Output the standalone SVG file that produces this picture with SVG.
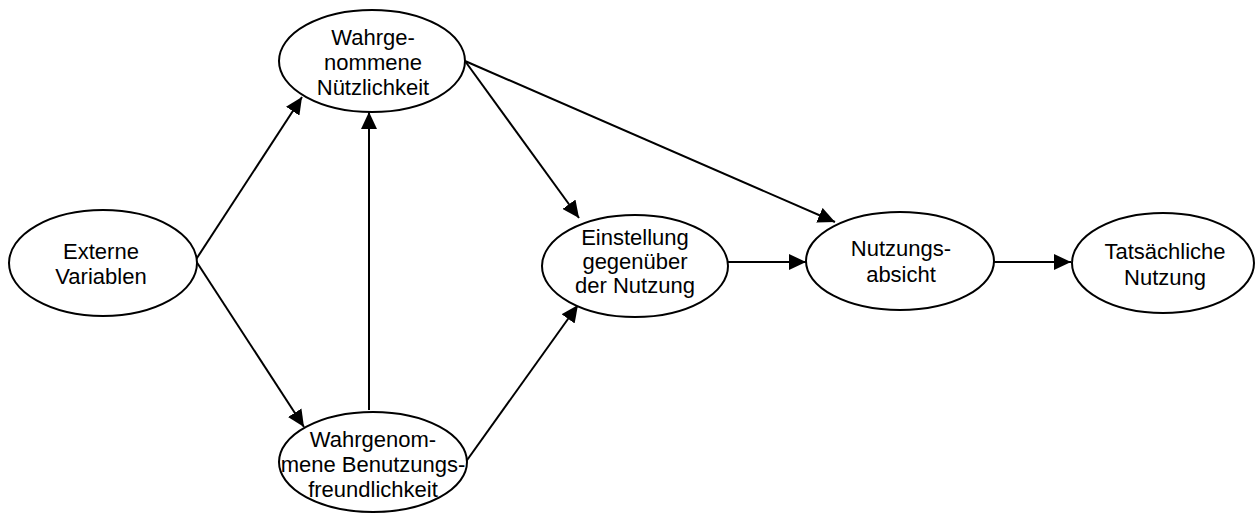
<svg xmlns="http://www.w3.org/2000/svg" width="1258" height="515" viewBox="0 0 1258 515">
<style>
.n ellipse{fill:#fff;stroke:#000;stroke-width:2}
.n text{font-family:"Liberation Sans",Arial,sans-serif;font-size:22px;text-anchor:middle;fill:#000}
.e line{stroke:#000;stroke-width:2;marker-end:url(#ah)}
</style>
<defs>
<marker id="ah" markerUnits="userSpaceOnUse" markerWidth="18" markerHeight="16" refX="17" refY="8" orient="auto">
<path d="M0,0 L17,8 L0,16 Z" fill="#000"/>
</marker>
</defs>
<rect width="1258" height="515" fill="#fff"/>
<g class="e" id="connectors">
<line x1="195" y1="261" x2="302" y2="97"/>
<line x1="196" y1="261" x2="304" y2="427"/>
<line x1="369" y1="410" x2="369" y2="112"/>
<line x1="465" y1="61" x2="579" y2="218"/>
<line x1="465" y1="61" x2="835" y2="222"/>
<line x1="465" y1="463" x2="578" y2="305"/>
<line x1="728" y1="262" x2="806" y2="262"/>
<line x1="994" y1="262" x2="1071" y2="262"/>
</g>
<g class="n" id="externe">
<ellipse cx="103" cy="263" rx="94" ry="53"/>
<text x="101" y="259">Externe</text>
<text x="101" y="284">Variablen</text>
</g>
<g class="n" id="nuetzlichkeit">
<ellipse cx="372" cy="61" rx="93" ry="51"/>
<text x="373" y="45">Wahrge-</text>
<text x="373" y="70">nommene</text>
<text x="373" y="95">Nützlichkeit</text>
</g>
<g class="n" id="benutzungsfreundlichkeit">
<ellipse cx="373" cy="462" rx="94" ry="50"/>
<text x="373" y="447">Wahrgenom-</text>
<text x="373" y="472">mene Benutzungs-</text>
<text x="373" y="497">freundlichkeit</text>
</g>
<g class="n" id="einstellung">
<ellipse cx="635" cy="266" rx="93" ry="51"/>
<text x="635" y="245">Einstellung</text>
<text x="635" y="269">gegenüber</text>
<text x="635" y="293">der Nutzung</text>
</g>
<g class="n" id="absicht">
<ellipse cx="900" cy="261" rx="94" ry="49"/>
<text x="901" y="256">Nutzungs-</text>
<text x="901" y="282">absicht</text>
</g>
<g class="n" id="tatsaechlich">
<ellipse cx="1163" cy="263" rx="91" ry="50"/>
<text x="1165" y="259">Tatsächliche</text>
<text x="1165" y="285">Nutzung</text>
</g>
</svg>
